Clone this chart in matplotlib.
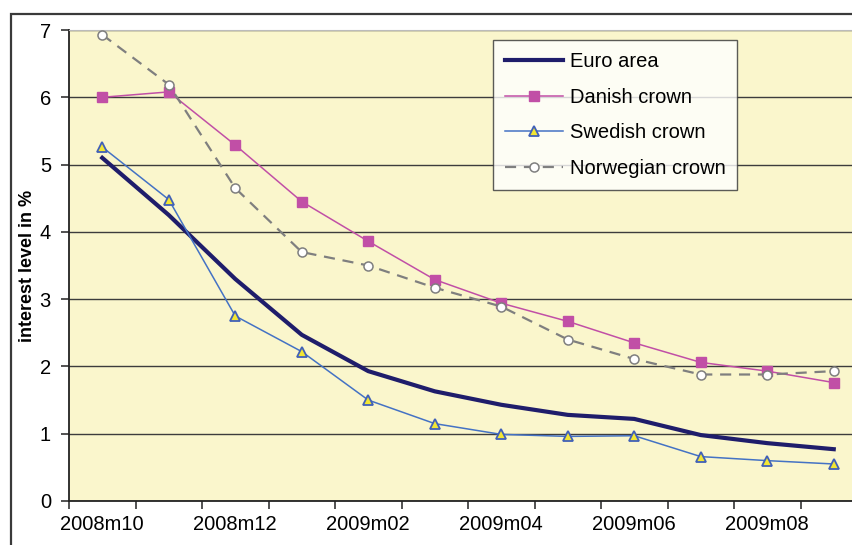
import matplotlib
matplotlib.use("Agg")
import matplotlib.pyplot as plt
from matplotlib.patches import Rectangle

plt.rcParams['font.family'] = ['Liberation Sans', 'DejaVu Sans']

months = ['2008m10', '2008m11', '2008m12', '2009m01', '2009m02', '2009m03',
          '2009m04', '2009m05', '2009m06', '2009m07', '2009m08', '2009m09']
euro = [5.10, 4.25, 3.30, 2.47, 1.93, 1.63, 1.43, 1.28, 1.22, 0.98, 0.86, 0.77]
danish = [6.00, 6.08, 5.29, 4.45, 3.86, 3.29, 2.94, 2.67, 2.35, 2.06, 1.93, 1.76]
swedish = [5.26, 4.48, 2.75, 2.22, 1.50, 1.15, 0.99, 0.96, 0.97, 0.66, 0.60, 0.55]
norwegian = [6.93, 6.19, 4.65, 3.70, 3.50, 3.17, 2.89, 2.40, 2.11, 1.88, 1.88, 1.93]

W, H = 852, 545
fig = plt.figure(figsize=(W / 100, H / 100), dpi=100)
fig.patch.set_facecolor('white')

# chart frame (runs off the right and bottom edge)
fig.patches.append(Rectangle((11 / W, -0.05), 1.0, (545 - 14) / H + 0.05,
                             transform=fig.transFigure, fill=False,
                             edgecolor='#3a3a3a', linewidth=1.6))

ax = fig.add_axes([69 / W, 44 / H, 798 / W, 471 / H])
ax.set_facecolor('#faf6cc')

x = list(range(len(months)))
ax.plot(x, euro, color='#1f1d6b', linewidth=3, label='Euro area', zorder=3)
ax.plot(x, danish, color='#c14fa6', linewidth=1.1, marker='s', markersize=7,
        markerfacecolor='#c14fa6', markeredgecolor='#c14fa6', label='Danish crown', zorder=3)
ax.plot(x, swedish, color='#4472c4', linewidth=1.1, marker='^', markersize=7.5,
        markerfacecolor='#f2e634', markeredgecolor='#4060b8', markeredgewidth=1.3,
        label='Swedish crown', zorder=3)
ax.plot(x, norwegian, color='#7f7f7f', linewidth=1.6, linestyle=(0, (5, 3.5)),
        marker='o', markersize=6.5, markerfacecolor='white', markeredgecolor='#7f7f7f',
        markeredgewidth=1.1, label='Norwegian crown', zorder=3)

ax.set_xlim(-0.5, 11.5)
ax.set_ylim(0, 7)
ax.set_yticks(range(0, 8))
ax.yaxis.grid(True, color='#3c3c3c', linewidth=1.0)
ax.set_axisbelow(True)

# ticks between categories, labels on every other month
ax.set_xticks([i - 0.5 for i in range(13)])
ax.set_xticklabels([])
ax.set_xticks(x[::2], minor=True)
ax.set_xticklabels(months[::2], minor=True)
ax.tick_params(axis='x', which='minor', length=0, pad=10, labelsize=14.5)
ax.tick_params(axis='x', which='major', length=6, width=1.2, color='#333333')
ax.tick_params(axis='y', length=6, width=1.2, pad=7, labelsize=14.5, color='#333333')

for s in ['left', 'bottom']:
    ax.spines[s].set_color('#222222')
    ax.spines[s].set_linewidth(1.3)
ax.spines['top'].set_color('#bbbbbb')
ax.spines['right'].set_visible(False)

ax.set_ylabel('interest level in %', fontsize=13, fontweight='bold', labelpad=3)

leg = ax.legend(loc='upper left', bbox_to_anchor=((493 - 69) / 798, (501 - 40) / 471),
                fontsize=14.5, frameon=True, fancybox=False, borderpad=0.6,
                labelspacing=0.82, handlelength=2.9, handletextpad=0.3,
                borderaxespad=0)
leg.get_frame().set_edgecolor('#333333')
leg.get_frame().set_linewidth(1.0)

fig.savefig('out.png', dpi=100)
